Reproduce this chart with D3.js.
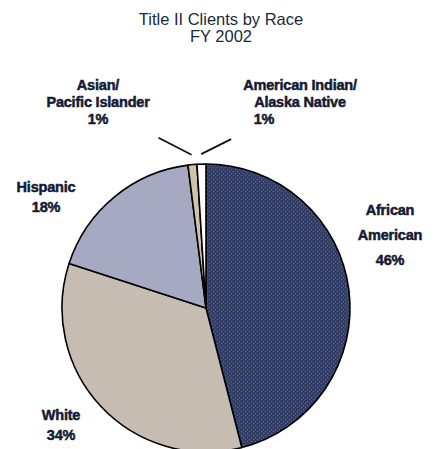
<!DOCTYPE html>
<html>
<head>
<meta charset="utf-8">
<script src="https://cdn.jsdelivr.net/npm/d3@7"></script>
<style>
  body { margin: 0; background: #fff; }
  svg { display: block; }
  .lbl { font-family: "Liberation Sans", Arial, sans-serif; font-weight: bold; font-size: 14.5px; fill: #141a33; stroke: #141a33; stroke-width: 0.5px; letter-spacing: -0.2px; }
</style>
</head>
<body>
<div id="chart"></div>
<script>
// data
const categories = ["African American", "White", "Hispanic", "Asian/Pacific Islander", "American Indian/Alaska Native"];
const values = [46, 34, 18, 1, 1];
const labelLines = [["African", "American", "46%"], ["White", "34%"], ["Hispanic", "18%"], ["Asian/", "Pacific Islander", "1%"], ["American Indian/", "Alaska Native", "1%"]];
const titleLines = ["Title II Clients by Race", "FY 2002"];

const width = 435, height = 449;
const cx = 206, cy = 308, r = 144;

const svg = d3.select("#chart").append("svg")
  .attr("width", width)
  .attr("height", height);

// dithered fills, like the old gif
const fills = [
  { id: "p0", base: "#333f66", dot: "#4f6f86" },
  { id: "p1", base: "#c6bcb2", dot: "#d8b8a8" },
  { id: "p2", base: "#a6a9c2", dot: "#8fb7b8" },
  { id: "p3", base: "#cfc0a8", dot: "#e0d0b8" },
  { id: "p4", base: "#ffffff", dot: "#ffffff" }
];
const defs = svg.append("defs");
fills.forEach(function(f) {
  const p = defs.append("pattern")
    .attr("id", f.id)
    .attr("patternUnits", "userSpaceOnUse")
    .attr("width", 4).attr("height", 4);
  p.append("rect").attr("width", 4).attr("height", 4).attr("fill", f.base);
  p.append("rect").attr("x", 1).attr("y", 1).attr("width", 1).attr("height", 1).attr("fill", f.dot);
  p.append("rect").attr("x", 3).attr("y", 3).attr("width", 1).attr("height", 1).attr("fill", f.dot);
});

// title
svg.selectAll("text.title")
  .data(titleLines)
  .enter()
  .append("text")
    .attr("class", "title")
    .attr("x", 221)
    .attr("y", function(d, i) { return 25 + i * 17; })
    .attr("text-anchor", "middle")
    .attr("font-family", "Liberation Sans, Arial, sans-serif")
    .attr("font-size", 16.5)
    .attr("fill", "#1c2b3a")
    .text(function(d) { return d; });

const pie = d3.pie().sort(null).value(function(d) { return d; });
const arcs = pie(values);
const arc = d3.arc().innerRadius(0).outerRadius(r);

const g = svg.append("g").attr("transform", "translate(" + cx + "," + cy + ")");
g.selectAll("path")
  .data(arcs)
  .enter()
  .append("path")
    .attr("d", arc)
    .attr("fill", function(d, i) { return "url(#" + fills[i].id + ")"; })
    .attr("stroke", "#000")
    .attr("stroke-width", 1.6)
    .attr("stroke-linejoin", "round");

// leader lines for the two small slices
const leaders = [
  { i: 3, from: r + 10, dx: -33, dy: -17 },
  { i: 4, from: r + 10, dx: 30, dy: -15 }
];
leaders.forEach(function(l) {
  const a = (arcs[l.i].startAngle + arcs[l.i].endAngle) / 2;
  const x0 = Math.sin(a) * l.from, y0 = -Math.cos(a) * l.from;
  g.append("line")
    .attr("x1", x0).attr("y1", y0)
    .attr("x2", x0 + l.dx).attr("y2", y0 + l.dy)
    .attr("stroke", "#111")
    .attr("stroke-width", 1.8);
});

// label anchors (absolute page positions)
const labelPos = [
  { x: 390, y: 215, lh: 25 },
  { x: 61, y: 420, lh: 20 },
  { x: 46, y: 192, lh: 20 },
  { x: 98, y: 90, lh: 17 },
  { x: 300, y: 90, lh: 17 }
];
labelLines.forEach(function(lines, i) {
  const t = svg.append("text")
    .attr("class", "lbl")
    .attr("text-anchor", "middle");
  lines.forEach(function(s, j) {
    t.append("tspan")
      .attr("x", labelPos[i].x + (i === 4 && j === 2 ? -36 : 0))
      .attr("y", labelPos[i].y + j * labelPos[i].lh)
      .text(s);
  });
});
</script>
</body>
</html>
